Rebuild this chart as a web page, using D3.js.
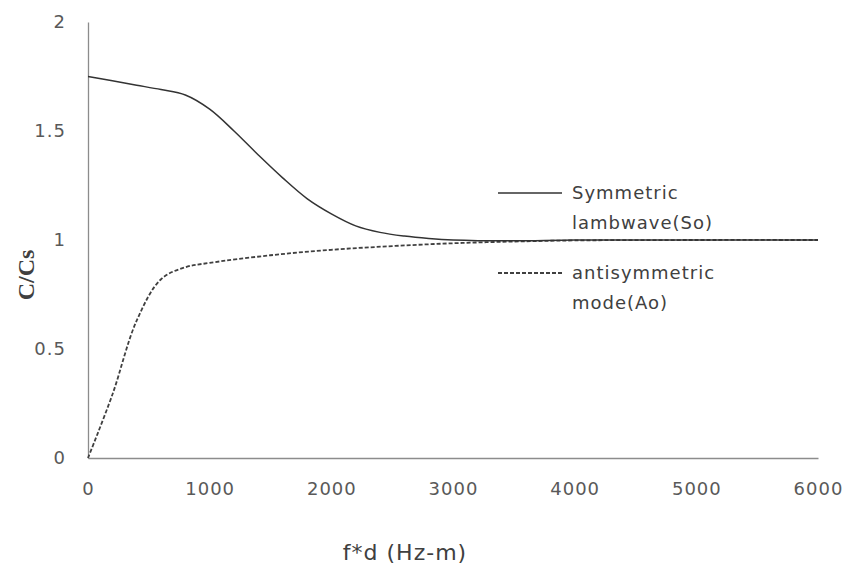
<!DOCTYPE html>
<html><head><meta charset="utf-8">
<script src="https://cdn.jsdelivr.net/npm/d3@7"></script>
<style>body{margin:0;background:#fff;}svg{display:block;}</style>
</head><body>
<svg id="c" width="847" height="568"></svg>
<script>
const xTicks = [0,1000,2000,3000,4000,5000,6000];
const yTicks = [0,0.5,1,1.5,2];
const yTickLabels = ["0","0.5","1","1.5","2"];
const symX = [0,200,400,600,800,1000,1200,1400,1600,1800,2000,2200,2400,2600,2800,3000,3500,4000,5000,6000];
const symY = [1.75,1.73,1.71,1.69,1.665,1.60,1.50,1.39,1.285,1.19,1.12,1.065,1.035,1.018,1.007,1.0,0.996,1.0,1.0,1.0];
const antiX = [0,200,400,600,800,1000,1500,2000,2500,3000,3500,4000,5000,6000];
const antiY = [0,0.29,0.63,0.82,0.875,0.895,0.93,0.955,0.972,0.985,0.993,0.998,1.0,1.0];
const seriesNames = [["Symmetric","lambwave(So)"],["antisymmetric","mode(Ao)"]];
const xTitle = "f*d (Hz-m)";
const yTitle = "C/Cs";

const svg = d3.select("#c");
const x = d3.scaleLinear().domain([0,6000]).range([88,818]);
const y = d3.scaleLinear().domain([0,2]).range([458,22]);
const font = "'DejaVu Sans', sans-serif";

// axes
const xAxis = d3.axisBottom(x).tickValues(xTicks).tickSize(0).tickPadding(24).tickFormat(d3.format("d"));
const gx = svg.append("g").attr("transform","translate(0,"+y(0)+")").call(xAxis);
gx.select(".domain").attr("stroke","#8c8c8c").attr("stroke-width",1.3);
gx.selectAll("text").attr("font-family",font).attr("font-size",18).attr("letter-spacing","1px").attr("fill","#595959");

const yAxis = d3.axisLeft(y).tickValues(yTicks).tickSize(0).tickPadding(22).tickFormat((d,i)=>yTickLabels[i]);
const gy = svg.append("g").attr("transform","translate("+x(0)+",0)").call(yAxis);
gy.select(".domain").attr("stroke","#8c8c8c").attr("stroke-width",1.3);
gy.selectAll("text").attr("font-family",font).attr("font-size",18).attr("letter-spacing","1px").attr("fill","#595959");

// lines
const line = d3.line().x(d=>x(d[0])).y(d=>y(d[1])).curve(d3.curveCatmullRom.alpha(0.5));
const symData = symX.map((v,i)=>[v,symY[i]]);
const antiData = antiX.map((v,i)=>[v,antiY[i]]);
svg.append("path").datum(antiData).attr("d",line).attr("fill","none")
  .attr("stroke","#404040").attr("stroke-width",1.8).attr("stroke-dasharray","4,2");
svg.append("path").datum(symData).attr("d",line).attr("fill","none")
  .attr("stroke","#333333").attr("stroke-width",1.5);

// legend
const leg = svg.append("g");
const legY = [193,273];
[0,1].forEach(i=>{
  leg.append("line").attr("x1",498).attr("x2",562).attr("y1",legY[i]).attr("y2",legY[i])
    .attr("stroke", i===1 ? "#404040" : "#333333").attr("stroke-width", i===1 ? 1.8 : 1.5)
    .attr("stroke-dasharray", i===1 ? "4,2" : null);
  seriesNames[i].forEach((t,j)=>{
    leg.append("text").attr("x",572).attr("y",legY[i]+6+j*30).text(t)
      .attr("font-family",font).attr("font-size",18).attr("letter-spacing","1px").attr("fill","#404040");
  });
});

// titles
svg.append("text").attr("x",405).attr("y",560).attr("text-anchor","middle").text(xTitle)
  .attr("font-family",font).attr("font-size",22).attr("letter-spacing","1px").attr("fill","#404040");
svg.append("text").attr("transform","translate(34,275) rotate(-90)").attr("text-anchor","middle").text(yTitle)
  .attr("font-family","'Liberation Serif', serif").attr("font-size",24).attr("font-weight","bold").attr("fill","#404040");
</script>
</body></html>
